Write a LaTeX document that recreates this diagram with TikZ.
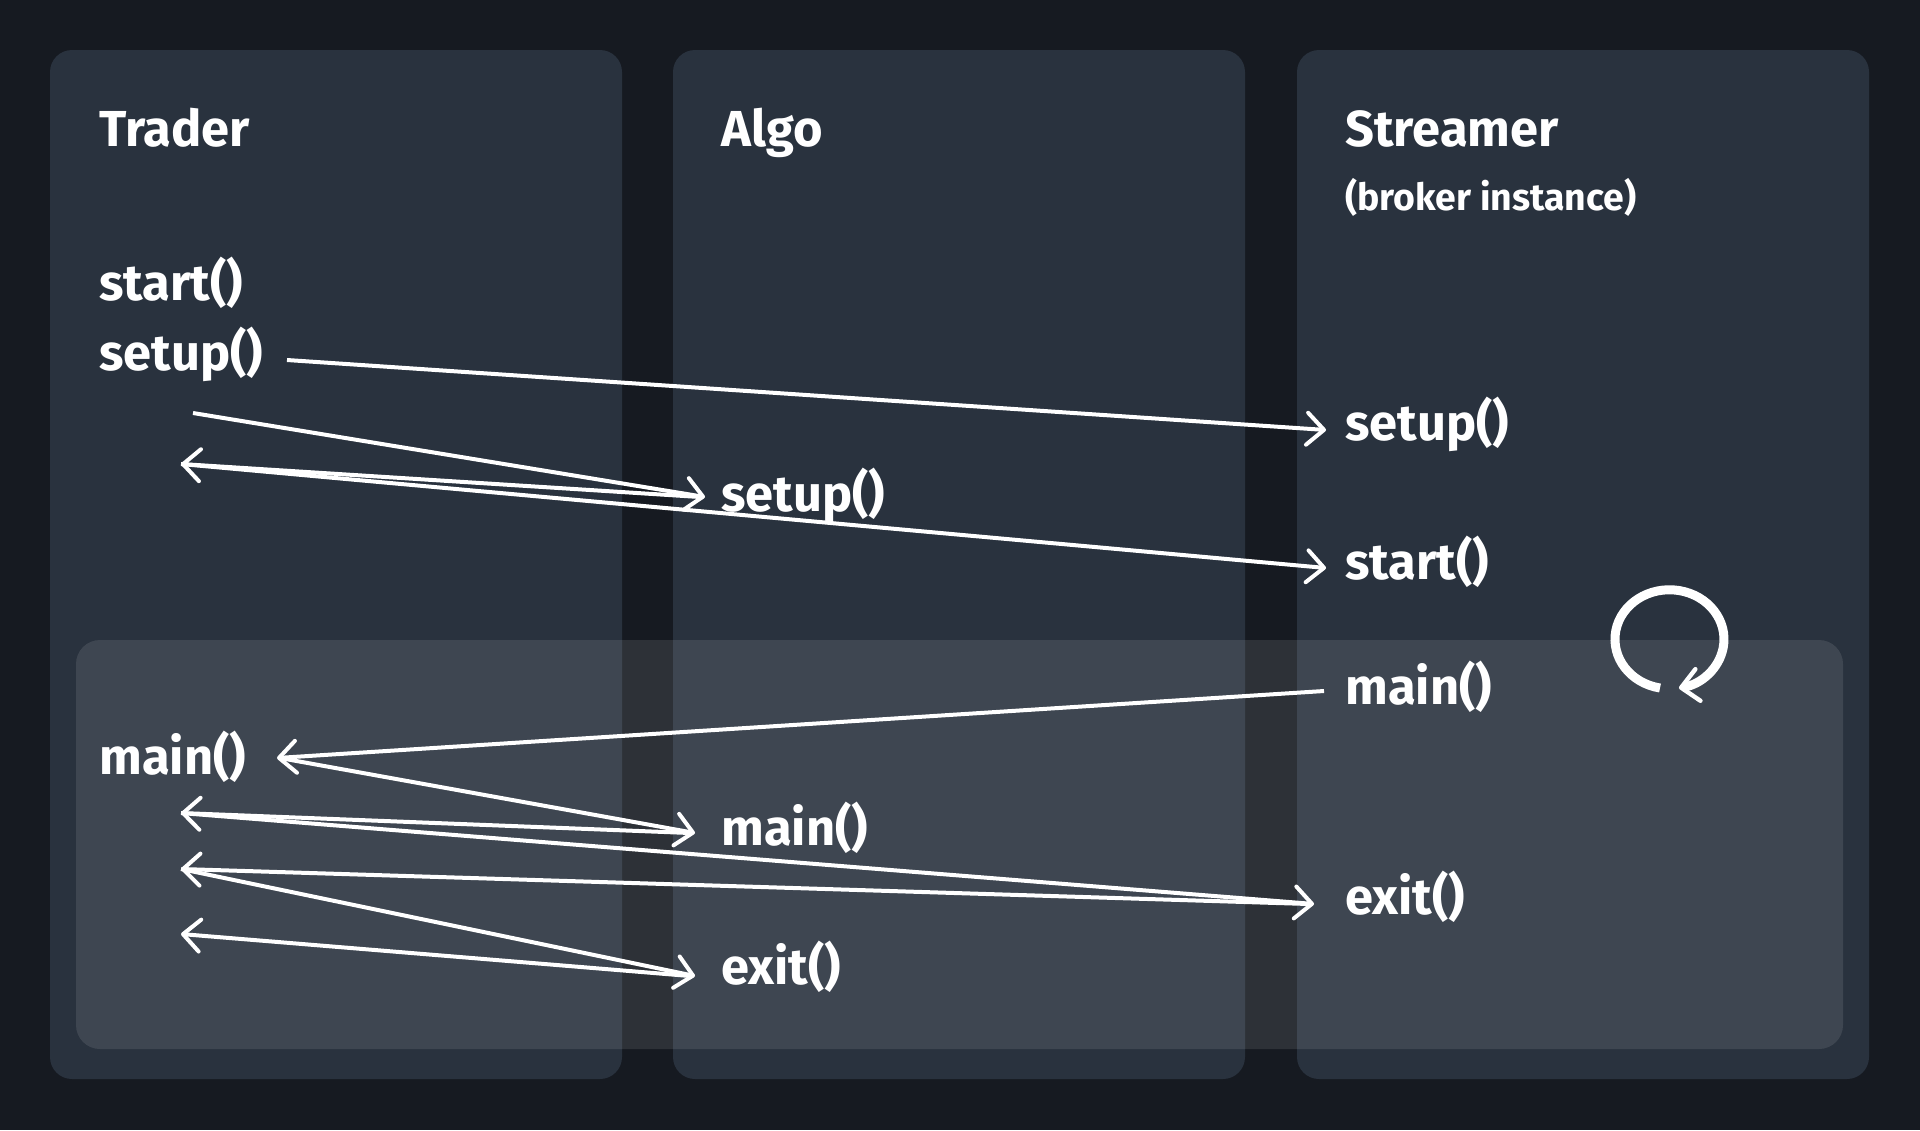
\documentclass[tikz,border=0pt]{standalone}
\usepackage{fontspec}
\setmainfont{Fira Sans}
\usetikzlibrary{arrows.meta}
\definecolor{bg}{HTML}{161A21}
\definecolor{lane}{HTML}{29323E}
\begin{document}
\begin{tikzpicture}[x=0.5pt,y=-0.5pt,
  lanebox/.style={fill=lane, rounded corners=11pt, minimum width=286pt, minimum height=514.5pt, inner sep=0pt, draw=none},
  bandbox/.style={fill=white, fill opacity=0.1, rounded corners=12pt, minimum width=883.5pt, minimum height=204.5pt, inner sep=0pt, draw=none},
  lbl/.style={anchor=base west, inner sep=0pt, text=white, font=\bfseries\fontsize{25.3}{30}\selectfont},
  sublbl/.style={anchor=base west, inner sep=0pt, text=white, font=\bfseries\fontsize{18.7}{22}\selectfont},
  msg/.style={draw=white, line width=2pt, -{Straight Barb[length=8.5pt,width=16pt,round]}},
  loopline/.style={draw=white, line width=4.5pt, -{Straight Barb[length=8.5pt,width=16pt,round,line width=2.2pt]}}
]
\fill[bg] (0,0) rectangle (1920,1130);
\useasboundingbox (0,0) rectangle (1920,1130);

% lanes
\node[lanebox] (trader) at (336,564.5) {};
\node[lanebox] (algo) at (959,564.5) {};
\node[lanebox] (streamer) at (1583,564.5) {};
% main-loop band
\node[bandbox] (band) at (959.5,844.5) {};

% titles
\node[lbl] (ttitle) at (99,146) {Trader};
\node[lbl] (atitle) at (721,146) {Algo};
\node[lbl] (stitle) at (1345,146) {Streamer};
\node[sublbl] (ssub) at (1345,210) {(broker instance)};

% method labels
\node[lbl] (tstart) at (99,300) {start()};
\node[lbl] (tsetup) at (99,370) {setup()};
\node[lbl] (ssetup) at (1345,440) {setup()};
\node[lbl] (asetup) at (721,511) {setup()};
\node[lbl] (sstart) at (1345,579) {start()};
\node[lbl] (smain) at (1345,704) {main()};
\node[lbl] (tmain) at (99,774) {main()};
\node[lbl] (amain) at (721,845) {main()};
\node[lbl] (sexit) at (1345,914) {exit()};
\node[lbl] (aexit) at (721,984) {exit()};

% connector end points
\coordinate (tsetupout) at (287,360);
\coordinate (ssetupin) at (1326,430);
\coordinate (tcall1) at (193,413);
\coordinate (asetupin) at (705,497);
\coordinate (asetupout) at (700,497);
\coordinate (tret1) at (181,464);
\coordinate (sstartin) at (1326,568);
\coordinate (smainout) at (1324,691);
\coordinate (tmainin) at (277,758);
\coordinate (tmainout) at (280,758);
\coordinate (amainin) at (695,833);
\coordinate (amainout) at (690,833);
\coordinate (tret2) at (181,813);
\coordinate (sexitin) at (1314,904);
\coordinate (sexitout) at (1309,904);
\coordinate (tret3) at (181,869);
\coordinate (aexitin) at (695,976);
\coordinate (aexitout) at (690,976);
\coordinate (tret4) at (181,934);
\coordinate (loopstart) at (1660,688);

% messages
\draw[msg] (tsetupout) -- (ssetupin);
\draw[msg] (tcall1) -- (asetupin);
\draw[msg] (asetupout) -- (tret1);
\draw[msg] (tret1) -- (sstartin);
\draw[msg] (smainout) -- (tmainin);
\draw[msg] (tmainout) -- (amainin);
\draw[msg] (amainout) -- (tret2);
\draw[msg] (tret2) -- (sexitin);
\draw[msg] (sexitout) -- (tret3);
\draw[msg] (tret3) -- (aexitin);
\draw[msg] (aexitout) -- (tret4);
% streamer loop
\draw[loopline] (loopstart) arc[start angle=100, end angle=440, x radius=54.5, y radius=49.5];
\end{tikzpicture}
\end{document}
